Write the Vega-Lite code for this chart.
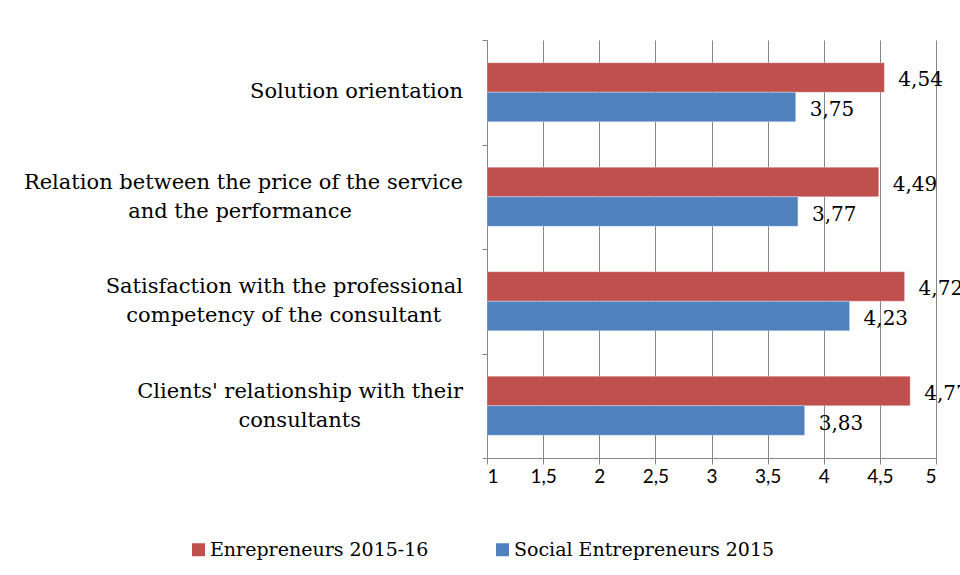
{
  "$schema": "https://vega.github.io/schema/vega-lite/v6.json",
  "autosize": {"type": "none"},
  "width": 449,
  "height": 418,
  "padding": {"left": 487, "top": 40, "right": 24, "bottom": 117},
  "background": "white",
  "config": {
    "locale": {"number": {"decimal": ",", "thousands": ".", "grouping": [3], "currency": ["", " €"]}},
    "view": {"stroke": null}
  },
  "data": {
    "values": [
      {"category": "Solution orientation", "series": "Enrepreneurs 2015-16", "value": 4.54},
      {"category": "Solution orientation", "series": "Social Entrepreneurs 2015", "value": 3.75},
      {"category": "Relation between the price of the service|and the performance\u2007\u2007\u2007\u2007\u2007\u2007\u2007\u2007\u2009\u200b", "series": "Enrepreneurs 2015-16", "value": 4.49},
      {"category": "Relation between the price of the service|and the performance\u2007\u2007\u2007\u2007\u2007\u2007\u2007\u2007\u2009\u200b", "series": "Social Entrepreneurs 2015", "value": 3.77},
      {"category": "Satisfaction with the professional|competency of the consultant\u2007\u2009\u2009\u200b", "series": "Enrepreneurs 2015-16", "value": 4.72},
      {"category": "Satisfaction with the professional|competency of the consultant\u2007\u2009\u2009\u200b", "series": "Social Entrepreneurs 2015", "value": 4.23},
      {"category": "Clients' relationship with their|consultants\u2007\u2007\u2007\u2007\u2007\u2007\u2007\u2009\u2009\u200b", "series": "Enrepreneurs 2015-16", "value": 4.77},
      {"category": "Clients' relationship with their|consultants\u2007\u2007\u2007\u2007\u2007\u2007\u2007\u2009\u2009\u200b", "series": "Social Entrepreneurs 2015", "value": 3.83}
    ]
  },
  "encoding": {
    "y": {
      "field": "category", "type": "nominal", "sort": null,
      "scale": {"paddingInner": 0, "paddingOuter": 0},
      "axis": {
        "title": null, "labels": false,
        "tickBand": "extent",
        "domainColor": "#868686", "tickColor": "#868686", "tickSize": 5
      }
    },
    "x": {
      "field": "value", "type": "quantitative",
      "scale": {"domain": [1, 5], "nice": false, "zero": false},
      "axis": {
        "title": null, "values": [1, 1.5, 2, 2.5, 3, 3.5, 4, 4.5, 5], "format": "~g",
        "grid": true, "gridColor": "#868686", "gridOpacity": 1,
        "domainColor": "#868686", "tickColor": "#868686", "tickSize": 6,
        "labelFont": "Lato", "labelFontSize": 19, "labelColor": "black", "labelPadding": 3
      }
    }
  },
  "layer": [
    {
      "mark": {"type": "bar", "stroke": "white", "strokeOpacity": 0.4, "strokeWidth": 0.8},
      "encoding": {
        "yOffset": {
          "field": "series", "type": "nominal",
          "scale": {"domain": ["Enrepreneurs 2015-16", "Social Entrepreneurs 2015"], "paddingInner": 0, "paddingOuter": 0.77}
        },
        "x2": {"datum": 1},
        "color": {
          "field": "series", "type": "nominal",
          "scale": {"domain": ["Enrepreneurs 2015-16", "Social Entrepreneurs 2015"], "range": ["#C0504D", "#4F81BD"]},
          "legend": {
            "title": null, "orient": "none", "direction": "horizontal",
            "legendX": -298, "legendY": 500,
            "symbolType": "square", "symbolSize": 169, "symbolStrokeWidth": 0,
            "labelFont": "DejaVu Serif", "labelFontSize": 19, "labelColor": "black",
            "labelOffset": 2, "columnPadding": 64, "labelLimit": 400
          }
        }
      }
    },
    {
      "mark": {"type": "text", "align": "left", "baseline": "middle", "dx": 14, "dy": 3, "font": "DejaVu Serif", "fontSize": 20, "color": "black"},
      "encoding": {
        "yOffset": {"field": "series", "type": "nominal"},
        "text": {"field": "value", "type": "quantitative", "format": ".2f"}
      }
    },
    {
      "transform": [{"filter": "datum.series === 'Enrepreneurs 2015-16' && indexof(datum.category, '|') < 0"}],
      "mark": {"type": "text", "align": "right", "baseline": "middle", "dx": -24, "font": "DejaVu Serif", "fontSize": 21, "color": "black"},
      "encoding": {
        "x": {"datum": 1},
        "text": {"field": "category"}
      }
    },
    {
      "transform": [{"filter": "datum.series === 'Enrepreneurs 2015-16' && indexof(datum.category, '|') >= 0"}],
      "mark": {"type": "text", "align": "right", "baseline": "middle", "dx": -24, "dy": -14, "lineBreak": "|", "lineHeight": 29, "font": "DejaVu Serif", "fontSize": 21, "color": "black"},
      "encoding": {
        "x": {"datum": 1},
        "text": {"field": "category"}
      }
    }
  ]
}
